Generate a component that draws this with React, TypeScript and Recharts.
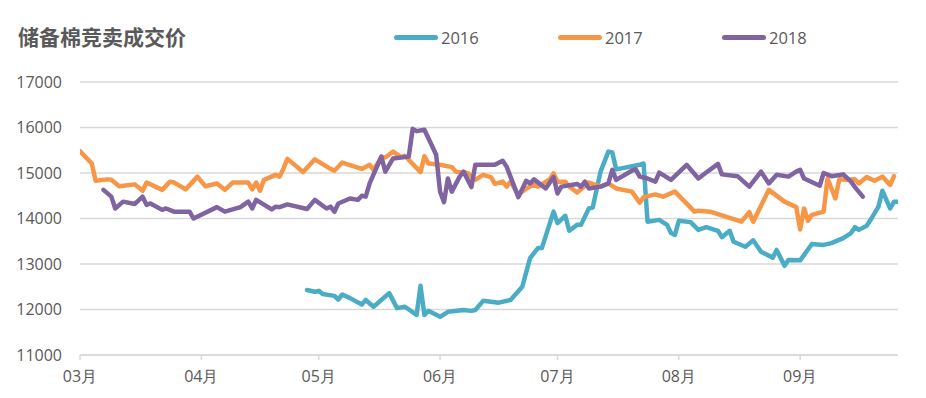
import React from "react";
import {
  LineChart,
  Line,
  XAxis,
  YAxis,
  CartesianGrid,
  Legend,
} from "recharts";

// x = days since 1 March, y = price (yuan/ton)
const monthTicks = [0, 31, 61, 92, 122, 153, 184];
const monthLabels = ["03月", "04月", "05月", "06月", "07月", "08月", "09月"];
const priceTicks = [11000, 12000, 13000, 14000, 15000, 16000, 17000];

const s2016: [number, number][] = [
  [58, 12430], [60, 12390], [61, 12410], [62, 12340], [65, 12300], [66, 12220], [67, 12330],
  [69, 12250], [72, 12110], [73, 12210], [75, 12060], [79, 12360], [81, 12030], [83, 12060],
  [86, 11880], [87, 12520], [88, 11880], [89, 11970], [92, 11840], [94, 11950], [98, 11990],
  [100, 11970], [101, 11990], [103, 12190], [107, 12150], [110, 12210], [113, 12500],
  [115, 13130], [117, 13350], [118, 13350], [121, 14150], [122, 13900], [124, 14060],
  [125, 13730], [127, 13860], [128, 13860], [130, 14220], [131, 14240], [133, 15030],
  [135, 15470], [136, 15450], [137, 15080], [143, 15180], [144, 15210], [145, 13930],
  [148, 13970], [150, 13860], [151, 13680], [152, 13640], [153, 13950], [156, 13920],
  [158, 13750], [160, 13810], [163, 13730], [164, 13590], [166, 13730], [167, 13490],
  [170, 13380], [172, 13520], [174, 13270], [177, 13140], [178, 13310], [180, 12960],
  [181, 13090], [184, 13080], [187, 13440], [190, 13420], [192, 13460], [195, 13570],
  [197, 13680], [198, 13810], [199, 13750], [201, 13840], [202, 13970], [204, 14260],
  [205, 14610], [207, 14220], [208, 14370], [209, 14370],
];

const s2017: [number, number][] = [
  [0, 15480], [3, 15210], [4, 14830], [7, 14860], [8, 14850], [10, 14710], [14, 14750],
  [16, 14610], [17, 14790], [21, 14630], [23, 14810], [24, 14790], [27, 14640], [30, 14920],
  [32, 14710], [35, 14770], [37, 14630], [39, 14790], [43, 14790], [44, 14640], [45, 14790],
  [46, 14610], [47, 14850], [50, 14960], [51, 14920], [52, 15100], [53, 15310], [57, 15020],
  [60, 15300], [64, 15090], [65, 15050], [67, 15230], [72, 15090], [74, 15180], [75, 15070],
  [77, 15350], [78, 15340], [80, 15470], [82, 15350], [83, 15380], [87, 15020], [88, 15370],
  [89, 15210], [92, 15180], [95, 15130], [96, 15030], [99, 15000], [100, 14920], [101, 14850],
  [103, 14960], [105, 14910], [106, 14760], [108, 14810], [109, 14700], [110, 14810],
  [112, 14520], [114, 14660], [116, 14740], [117, 14700], [120, 14860], [121, 14990],
  [122, 14810], [124, 14810], [125, 14700], [127, 14570], [130, 14790], [133, 14700],
  [135, 14770], [137, 14660], [141, 14590], [143, 14350], [144, 14470], [147, 14530],
  [149, 14480], [152, 14590], [157, 14150], [158, 14170], [161, 14150], [169, 13930],
  [171, 14140], [172, 13930], [176, 14630], [180, 14370], [183, 14250], [184, 13760],
  [185, 14220], [186, 13950], [187, 14080], [190, 14150], [191, 14880], [193, 14440],
  [194, 14860], [196, 14850], [198, 14860], [199, 14770], [201, 14910], [203, 14830],
  [205, 14920], [207, 14740], [208, 14930],
];

const s2018: [number, number][] = [
  [6, 14630], [8, 14480], [9, 14220], [11, 14370], [14, 14320], [16, 14480], [17, 14300],
  [18, 14330], [21, 14190], [22, 14220], [24, 14150], [28, 14150], [29, 14000], [35, 14250],
  [37, 14150], [41, 14250], [43, 14370], [44, 14220], [45, 14410], [49, 14200], [50, 14260],
  [51, 14250], [53, 14310], [58, 14210], [60, 14410], [63, 14220], [64, 14260], [65, 14150],
  [66, 14330], [69, 14440], [71, 14410], [72, 14500], [73, 14480], [74, 14770], [77, 15360],
  [78, 15030], [80, 15320], [84, 15360], [85, 15970], [86, 15920], [88, 15950], [91, 15400],
  [92, 14590], [93, 14360], [94, 14880], [95, 14590], [97, 14920], [98, 15030], [100, 14690],
  [101, 15180], [106, 15180], [108, 15270], [109, 15140], [112, 14470], [114, 14830],
  [115, 14770], [116, 14860], [119, 14660], [121, 14910], [122, 14550], [123, 14700],
  [127, 14760], [128, 14700], [129, 14810], [130, 14660], [133, 14700], [135, 14770],
  [136, 15070], [137, 14850], [141, 15050], [142, 15080], [143, 14920], [145, 14880],
  [147, 14810], [148, 15010], [151, 14850], [155, 15180], [158, 14880], [160, 15010],
  [163, 15200], [164, 14970], [168, 14930], [171, 14700], [174, 15030], [176, 14770],
  [178, 14960], [181, 14920], [183, 15030], [184, 15070], [185, 14880], [189, 14720],
  [190, 15000], [192, 14930], [195, 14970], [197, 14810], [198, 14690], [200, 14480],
];

const toRows = (s: [number, number][]) => s.map(([d, v]) => ({ d, v }));

const FONT = "'Open Sans', 'Liberation Sans', sans-serif";
const TEXT = "#595959";
const GRID = "#d9d9d9";

const renderLegend = (props: any) => {
  const items = props.payload || [];
  return (
    <div style={{ display: "flex", fontFamily: FONT, fontSize: 16.5, color: TEXT }}>
      {items.map((p: any) => (
        <div key={p.value} style={{ width: 164, height: 20, display: "flex", alignItems: "center" }}>
          <span
            style={{
              display: "inline-block",
              width: 44,
              height: 5,
              borderRadius: 3,
              background: p.color,
              marginRight: 3,
            }}
          />
          <span>{p.value}</span>
        </div>
      ))}
    </div>
  );
};

export default function App() {
  return (
    <div style={{ position: "absolute", left: 0, top: 0, width: 926, height: 398, background: "#fff" }}>
      <div
        style={{
          position: "absolute",
          left: 18,
          top: 26,
          fontFamily: "'Noto Sans CJK SC', sans-serif",
          fontWeight: 700,
          fontSize: 21,
          lineHeight: 1,
          color: TEXT,
        }}
      >
        储备棉竞卖成交价
      </div>
      <LineChart width={926} height={398} margin={{ top: 82, right: 28, bottom: 13, left: 0 }}>
        <CartesianGrid horizontal vertical={false} stroke={GRID} strokeWidth={1.5} />
        <XAxis
          type="number"
          dataKey="d"
          domain={[0, 209]}
          ticks={monthTicks}
          interval={0}
          allowDataOverflow
          tickFormatter={(v: number) => monthLabels[monthTicks.indexOf(v)]}
          axisLine={{ stroke: GRID, strokeWidth: 1.5 }}
          tickLine={{ stroke: GRID, strokeWidth: 1.5 }}
          tickSize={5}
          tickMargin={11}
          height={30}
          tick={{ fill: TEXT, fontSize: 16, fontFamily: FONT }}
        />
        <YAxis
          type="number"
          domain={[11000, 17000]}
          ticks={priceTicks}
          interval={0}
          axisLine={false}
          tickLine={false}
          tickSize={0}
          tickMargin={18}
          width={80}
          tick={{ fill: TEXT, fontSize: 16, fontFamily: FONT }}
        />
        <Legend
          layout="horizontal"
          verticalAlign="middle"
          align="center"
          content={renderLegend}
          wrapperStyle={{ top: 27, left: 394, width: 500 }}
        />
        <Line data={toRows(s2016)} dataKey="v" name="2016" stroke="#4bacc6" strokeWidth={4.5}
          dot={false} type="linear" strokeLinejoin="round" strokeLinecap="round" isAnimationActive={false} />
        <Line data={toRows(s2017)} dataKey="v" name="2017" stroke="#f79646" strokeWidth={4.5}
          dot={false} type="linear" strokeLinejoin="round" strokeLinecap="round" isAnimationActive={false} />
        <Line data={toRows(s2018)} dataKey="v" name="2018" stroke="#8064a2" strokeWidth={4.5}
          dot={false} type="linear" strokeLinejoin="round" strokeLinecap="round" isAnimationActive={false} />
      </LineChart>
    </div>
  );
}
